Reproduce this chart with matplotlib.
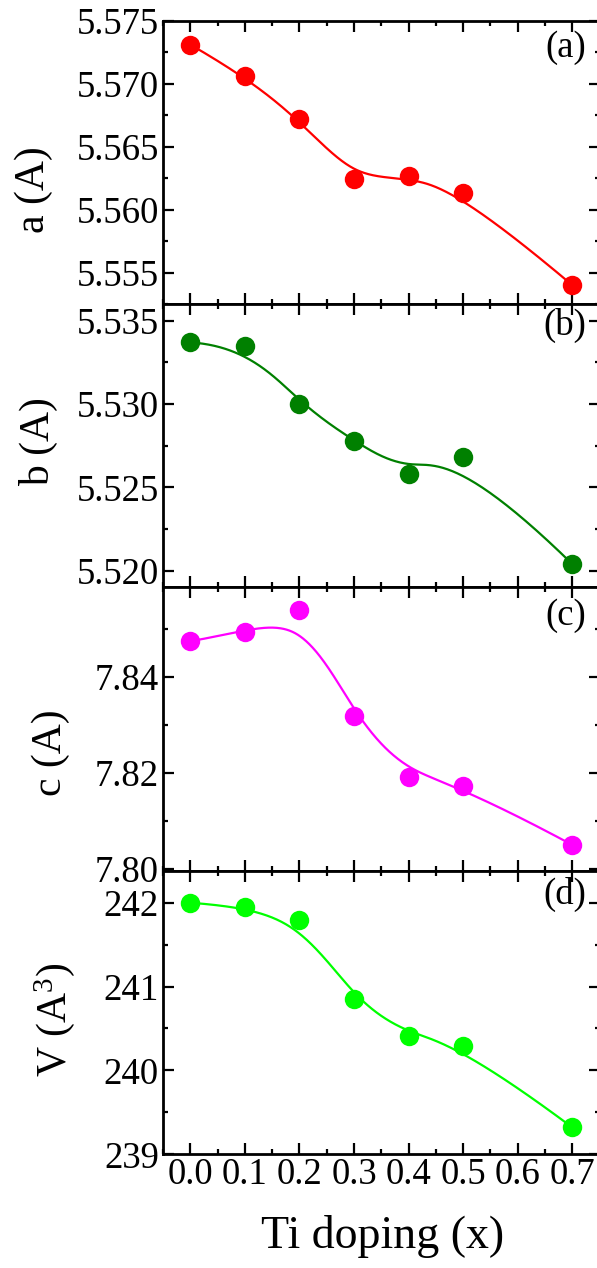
import numpy as np
import matplotlib
matplotlib.use('Agg')
import matplotlib.pyplot as plt
from matplotlib.ticker import MultipleLocator, FormatStrFormatter

plt.rcParams['font.family'] = 'Liberation Serif'
plt.rcParams['mathtext.fontset'] = 'custom'
plt.rcParams['mathtext.rm'] = 'Liberation Serif'
plt.rcParams['mathtext.default'] = 'regular'

ti_doping = [0.0, 0.1, 0.2, 0.3, 0.4, 0.5, 0.7]
a_param = [5.5731, 5.5706, 5.5672, 5.5624, 5.5627, 5.5613, 5.5540]
b_param = [5.5337, 5.5335, 5.5300, 5.5278, 5.5258, 5.5268, 5.5204]
c_param = [7.8474, 7.8494, 7.8539, 7.8319, 7.8192, 7.8172, 7.8050]
volume = [242.00, 241.95, 241.79, 240.85, 240.41, 240.29, 239.32]


def bspline(xs, ys, k=3, num=400):
    # clamped cubic B-spline, data points used as control points
    pts = np.column_stack([xs, ys])
    n = len(pts)
    knots = np.concatenate([np.zeros(k), np.linspace(0, 1, n - k + 1), np.ones(k)])
    t = np.linspace(0, 1, num)
    t[-1] -= 1e-9
    N = np.zeros((num, len(knots) - 1))
    for i in range(len(knots) - 1):
        N[:, i] = (knots[i] <= t) & (t < knots[i + 1])
    for d in range(1, k + 1):
        Nn = np.zeros((num, len(knots) - 1 - d))
        for i in range(len(knots) - 1 - d):
            den1 = knots[i + d] - knots[i]
            den2 = knots[i + d + 1] - knots[i + 1]
            left = (t - knots[i]) / den1 * N[:, i] if den1 > 0 else 0
            right = (knots[i + d + 1] - t) / den2 * N[:, i + 1] if den2 > 0 else 0
            Nn[:, i] = left + right
        N = Nn
    curve = N @ pts
    return curve[:, 0], curve[:, 1]


panels = [
    {'y': a_param, 'color': '#ff0000', 'label': 'a (A)', 'tag': '(a)',
     'ylim': (5.5525, 5.575), 'major': 0.005, 'fmt': '%.3f',
     'lab_xy': (-0.252, 0.403), 'tag_y': 0.965},
    {'y': b_param, 'color': '#008000', 'label': 'b (A)', 'tag': '(b)',
     'ylim': (5.519, 5.536), 'major': 0.005, 'fmt': '%.3f',
     'lab_xy': (-0.241, 0.515), 'tag_y': 0.985},
    {'y': c_param, 'color': '#ff00ff', 'label': 'c (A)', 'tag': '(c)',
     'ylim': (7.7996, 7.8586), 'major': 0.02, 'fmt': '%.2f',
     'lab_xy': (-0.213, 0.418), 'tag_y': 0.96},
    {'y': volume, 'color': '#00ff00', 'label': 'V (A$^3$)', 'tag': '(d)',
     'ylim': (239.0, 242.38), 'major': 1, 'fmt': '%d',
     'lab_xy': (-0.197, 0.475), 'tag_y': 0.98},
]

fig, axes = plt.subplots(4, 1, figsize=(5.97, 12.68), dpi=100, sharex=True)
fig.subplots_adjust(left=0.273, right=1.0044, top=0.9837, bottom=0.0897, hspace=0)

for ax, p in zip(axes, panels):
    sx, sy = bspline(ti_doping, p['y'])
    ax.plot(sx, sy, color=p['color'], lw=1.6, zorder=2)
    ax.plot(ti_doping, p['y'], 'o', color=p['color'], ms=14, mew=0, zorder=3)
    ax.set_ylim(*p['ylim'])
    ax.yaxis.set_major_locator(MultipleLocator(p['major']))
    ax.yaxis.set_minor_locator(MultipleLocator(p['major'] / 2))
    ax.yaxis.set_major_formatter(FormatStrFormatter(p['fmt']))
    ax.set_ylabel(p['label'], fontsize=30)
    ax.yaxis.set_label_coords(*p['lab_xy'])
    ax.text(0.969, p['tag_y'], p['tag'], transform=ax.transAxes,
            ha='right', va='top', fontsize=26.5)
    ax.tick_params(which='both', direction='in', top=True, right=True,
                   labelsize=26.5, width=1.6)
    ax.tick_params(axis='y', which='both', pad=3)
    ax.tick_params(axis='x', which='both', pad=2)
    ax.tick_params(which='major', length=7.7)
    ax.tick_params(which='minor', length=3.8)
    for s in ax.spines.values():
        s.set_linewidth(2)

ax = axes[-1]
ax.set_xlim(-0.05, 0.75)
ax.xaxis.set_major_locator(MultipleLocator(0.1))
ax.xaxis.set_minor_locator(MultipleLocator(0.05))
ax.xaxis.set_major_formatter(FormatStrFormatter('%.1f'))
ax.set_xlabel('Ti doping (x)', fontsize=33)
ax.xaxis.set_label_coords(0.503, -0.215)

plt.savefig('out.png', dpi=100)
